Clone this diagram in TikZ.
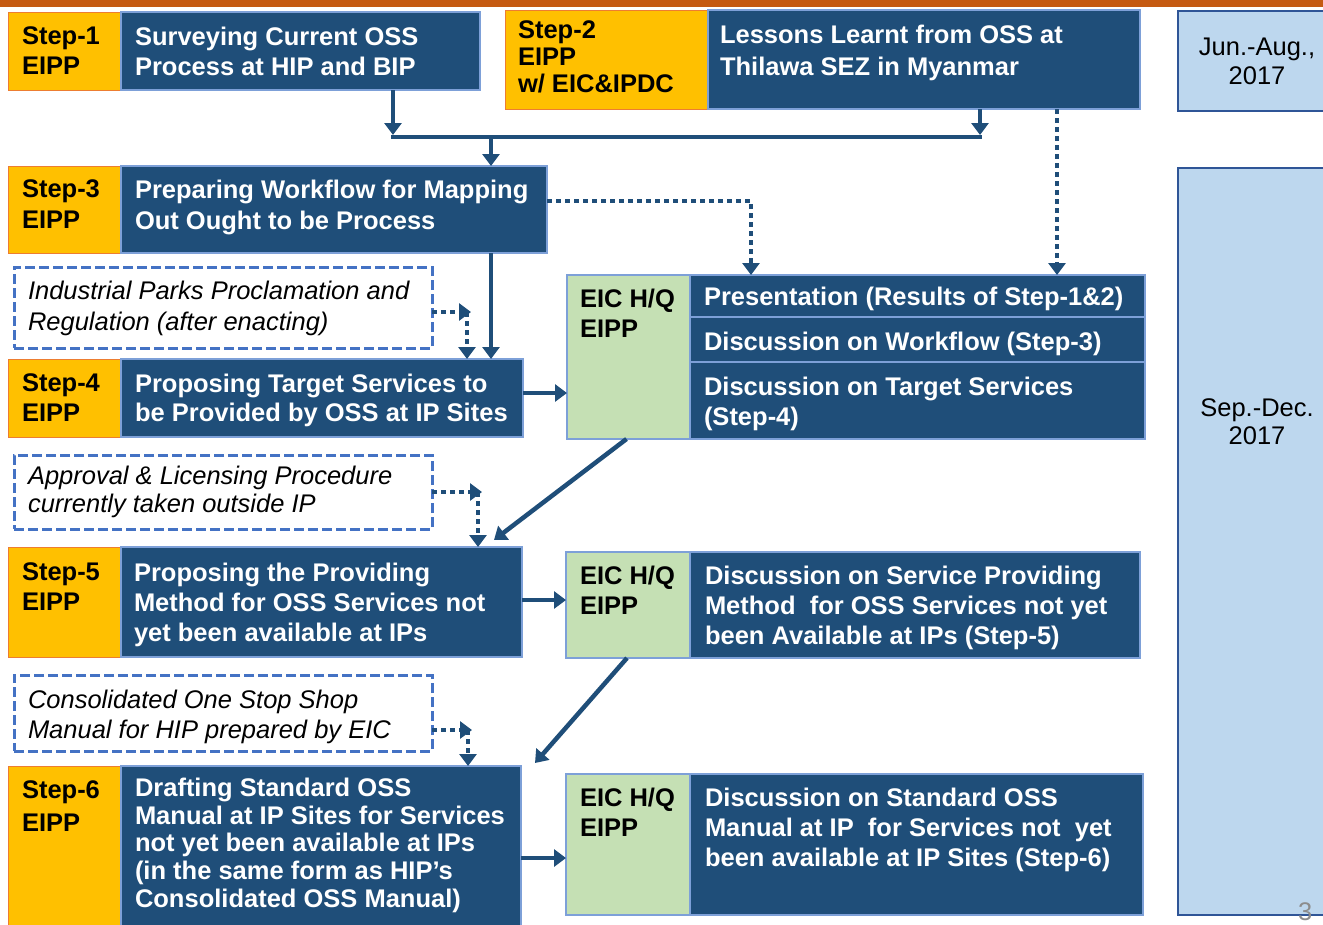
\documentclass[tikz,border=0pt]{standalone}
\usepackage{fontspec}
\setmainfont{Liberation Sans}
\usetikzlibrary{arrows.meta,calc}

\definecolor{barorange}{HTML}{C55A11}
\definecolor{stepyellow}{HTML}{FFC000}
\definecolor{stepedge}{HTML}{ED7D31}
\definecolor{navy}{HTML}{1F4E79}
\definecolor{navyedge}{HTML}{7DA0D8}
\definecolor{hqgreen}{HTML}{C5E0B4}
\definecolor{periodfill}{HTML}{BDD7EE}
\definecolor{periodedge}{HTML}{2F5597}
\definecolor{noteedge}{HTML}{4472C4}
\definecolor{pagegray}{HTML}{8C8C8C}

% box from corner (x1,y1) to corner (x2,y2), y growing downwards
\newcommand\mkbox[6]{\node[#2, minimum width={(#5)-(#3)}, minimum height={(#6)-(#4)}] (#1) at (#3,#4) {};}

\tikzset{
  boxbase/.style={rectangle, inner sep=0pt, outer sep=0pt, anchor=north west},
  stepbox/.style={boxbase, fill=stepyellow, draw=stepedge, line width=1pt},
  taskbox/.style={boxbase, fill=navy, draw=navyedge, line width=1.5pt},
  hqbox/.style={boxbase, fill=hqgreen, draw=navyedge, line width=1.5pt},
  periodbox/.style={boxbase, fill=periodfill, draw=periodedge, line width=1.5pt},
  notebox/.style={boxbase, draw=noteedge, line width=3pt, dash pattern=on 10pt off 4pt},
  lbl/.style={inner sep=0pt, outer sep=0pt, anchor=north west, align=left,
    font=\fontsize{25.5}{#1}\selectfont\bfseries},
  wtx/.style={lbl=#1, text=white},
  itx/.style={inner sep=0pt, outer sep=0pt, anchor=north west, align=left,
    font=\fontsize{25.5}{#1}\selectfont\itshape},
  ptx/.style={inner sep=0pt, outer sep=0pt, anchor=north, align=center,
    font=\fontsize{25.5}{#1}\selectfont},
  flow/.style={draw=navy, line width=4.5pt, -{Triangle[width=17pt,length=12pt]}},
  dotflow/.style={flow, dash pattern=on 5pt off 4pt},
}

\begin{document}
\begin{tikzpicture}[x=1pt,y=-1pt]
\useasboundingbox (0,0) rectangle (1323,924);
\fill[white] (0,0) rectangle (1323,924);
\clip (0,0) rectangle (1323,924);

% top rule
\fill[barorange] (0,0) rectangle (1323,7);

% period column
\mkbox{p1}{periodbox}{1178}{11}{1345}{111}
\node[ptx=29] (p1t) at (1257,38) {Jun.-Aug.,\\2017};
\mkbox{p2}{periodbox}{1178}{168}{1345}{915}
\node[ptx=28] (p2t) at (1257,399) {Sep.-Dec.\\2017};
\node[inner sep=0pt, anchor=north west, text=pagegray, font=\fontsize{25.5}{30}\selectfont] (pg) at (1298,902) {3};

% Step 1
\mkbox{s1y}{stepbox}{8}{12}{121}{90}
\mkbox{s1b}{taskbox}{121}{12}{480}{90}
\node[lbl=30] (s1l) at (22,27) {Step-1\\EIPP};
\node[wtx=30] (s1t) at (135,27) {Surveying Current OSS\\Process at HIP and BIP};

% Step 2
\mkbox{s2y}{stepbox}{505}{10}{708}{109}
\mkbox{s2b}{taskbox}{708}{10}{1140}{109}
\node[lbl=27] (s2l) at (518,21) {Step-2\\EIPP\\w/ EIC\&IPDC};
\node[wtx=32] (s2t) at (720,25) {Lessons Learnt from OSS at\\Thilawa SEZ in Myanmar};

% Step 3
\mkbox{s3y}{stepbox}{8}{166}{121}{253}
\mkbox{s3b}{taskbox}{121}{166}{547}{253}
\node[lbl=31] (s3l) at (22,180) {Step-3\\EIPP};
\node[wtx=31] (s3t) at (135,180) {Preparing Workflow for Mapping\\Out Ought to be Process};

% note 1
\mkbox{d1}{notebox}{14}{267}{432}{348}
\node[itx=31] (d1t) at (28,281) {Industrial Parks Proclamation and\\Regulation (after enacting)};

% Step 4
\mkbox{s4y}{stepbox}{8}{359}{121}{437}
\mkbox{s4b}{taskbox}{121}{359}{523}{437}
\node[lbl=29.5] (s4l) at (22,374) {Step-4\\EIPP};
\node[wtx=29.5] (s4t) at (135,374) {Proposing Target Services to\\be Provided by OSS at IP Sites};

% EIC H/Q meeting 1
\mkbox{g1}{hqbox}{567}{275}{690}{439}
\node[lbl=30] (g1t) at (580,289) {EIC H/Q\\EIPP};
\mkbox{r1}{taskbox}{690}{275}{1145}{317}
\mkbox{r2}{taskbox}{690}{317}{1145}{362}
\mkbox{r3}{taskbox}{690}{362}{1145}{439}
\node[wtx=30] (r1t) at (704,287) {Presentation (Results of Step-1\&2)};
\node[wtx=30] (r2t) at (704,332) {Discussion on Workflow (Step-3)};
\node[wtx=30] (r3t) at (704,377) {Discussion on Target Services\\(Step-4)};

% note 2
\mkbox{d2}{notebox}{14}{455}{432}{529}
\node[itx=28] (d2t) at (28,466) {Approval \& Licensing Procedure\\currently taken outside IP};

% Step 5
\mkbox{s5y}{stepbox}{8}{547}{121}{657}
\mkbox{s5b}{taskbox}{121}{547}{522}{657}
\node[lbl=30] (s5l) at (22,563) {Step-5\\EIPP};
\node[wtx=30] (s5t) at (134,563) {Proposing the Providing\\Method for OSS Services not\\yet been available at IPs};

% EIC H/Q meeting 2
\mkbox{g2}{hqbox}{566}{552}{690}{658}
\node[lbl=30] (g2t) at (580,566) {EIC H/Q\\EIPP};
\mkbox{e2}{taskbox}{690}{552}{1140}{658}
\node[wtx=30] (e2t) at (705,566) {Discussion on Service Providing\\Method~ for OSS Services not yet\\been Available at IPs (Step-5)};

% note 3
\mkbox{d3}{notebox}{14}{675}{432}{751}
\node[itx=30] (d3t) at (28,690) {Consolidated One Stop Shop\\Manual for HIP prepared by EIC};

% Step 6
\mkbox{s6y}{stepbox}{8}{766}{121}{932}
\mkbox{s6b}{taskbox}{121}{766}{521}{932}
\node[lbl=33] (s6l) at (22,781) {Step-6\\EIPP};
\node[wtx=27.7] (s6t) at (135,778) {Drafting Standard OSS\\Manual at IP Sites for Services\\not yet been available at IPs\\(in the same form as HIP’s\\Consolidated OSS Manual)};

% EIC H/Q meeting 3
\mkbox{g3}{hqbox}{566}{774}{690}{915}
\node[lbl=30] (g3t) at (580,788) {EIC H/Q\\EIPP};
\mkbox{e3}{taskbox}{690}{774}{1143}{915}
\node[wtx=30] (e3t) at (705,788) {Discussion on Standard OSS\\Manual at IP~ for Services not~ yet\\been available at IP Sites (Step-6)};

% ---- connectors ----
\coordinate (j1) at (393,137);
\coordinate (j2) at (980,137);
\coordinate (j3) at (491,137);
\draw[flow, shorten >=2pt] (s1b.south -| j1) -- (j1);
\draw[flow, shorten >=2pt] (s2b.south -| j2) -- (j2);
\draw[draw=navy, line width=4.5pt, line cap=rect] (j1) -- (j2);
\draw[flow] (j3) -- (j3 |- s3b.north);
\draw[flow] (s3b.south -| j3) -- (s4b.north -| j3);

\coordinate (k1) at (751,201);
\coordinate (k2) at (1057,0);
\draw[dotflow] (s3b.east |- k1) -| (k1 |- r1.north);
\draw[dotflow] (s2b.south -| k2) -- (r1.north -| k2);

\coordinate (k3) at (467,312);
\draw[dotflow] (d1.east |- k3) -- ($(k3)+(4,0)$);
\draw[dotflow] (k3) -- (k3 |- s4b.north);
\coordinate (k4) at (478,492);
\draw[dotflow] (d2.east |- k4) -- ($(k4)+(4,0)$);
\draw[dotflow] (k4) -- (k4 |- s5b.north);
\coordinate (k5) at (468,730);
\draw[dotflow] (d3.east |- k5) -- ($(k5)+(4,0)$);
\draw[dotflow] (k5) -- (k5 |- s6b.north);

\coordinate (h1) at (0,393);
\coordinate (h2) at (0,600);
\coordinate (h3) at (0,858);
\draw[flow] (s4b.east |- h1) -- (g1.west |- h1);
\draw[flow] (s5b.east |- h2) -- (g2.west |- h2);
\draw[flow] (s6b.east |- h3) -- (g3.west |- h3);

\draw[flow] ($(g1.south)+(-2,0)$) -- ($(s5b.north east)+(-28,-7)$);
\draw[flow] ($(g2.south)+(-1,0)$) -- ($(s6b.north east)+(14,-3)$);
\end{tikzpicture}
\end{document}
